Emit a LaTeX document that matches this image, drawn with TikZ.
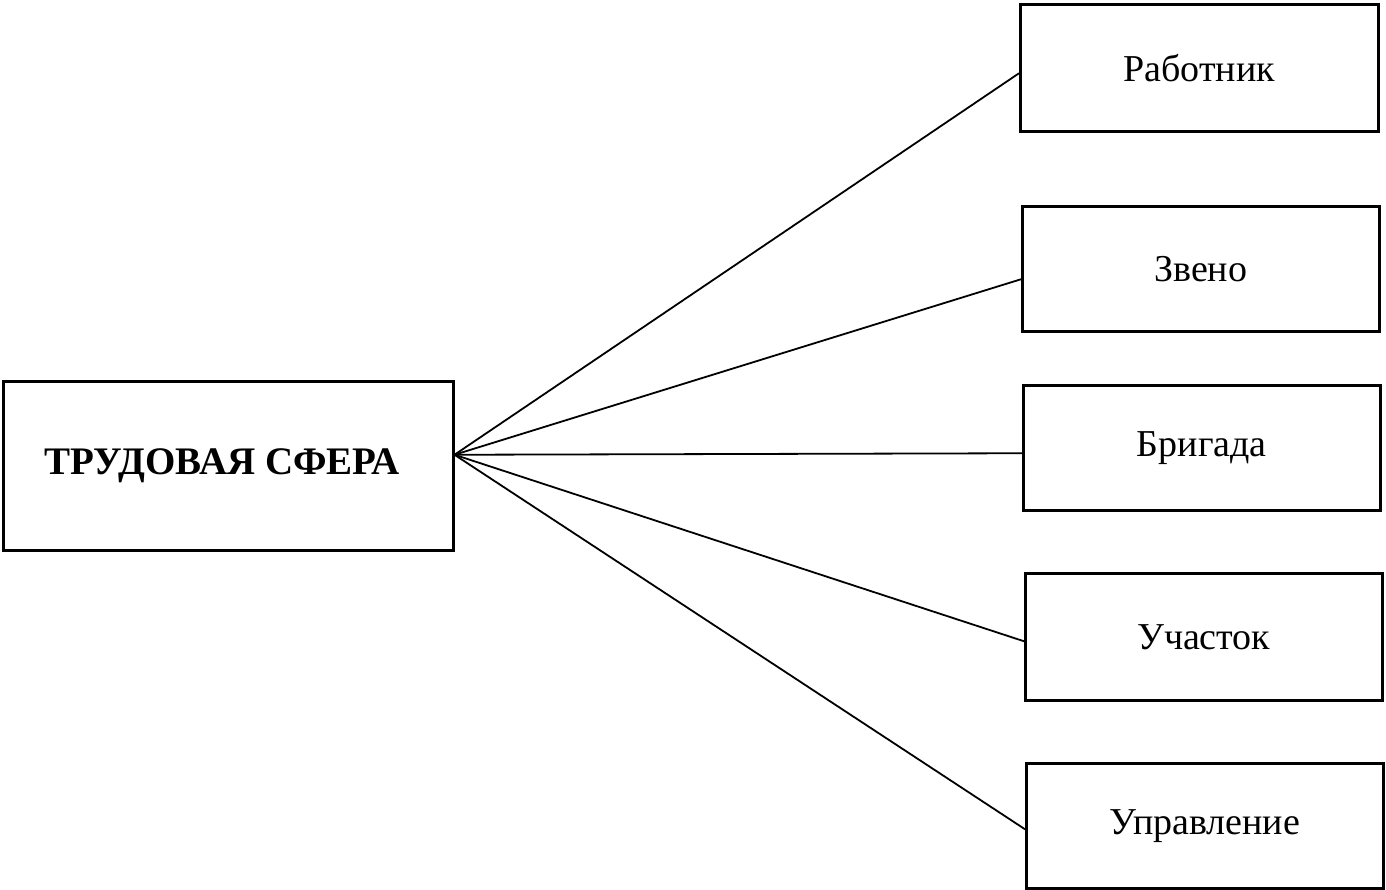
\documentclass[tikz,border=0pt]{standalone}
\usepackage{fontspec}
\setmainfont{Liberation Serif}
\begin{document}
\begin{tikzpicture}[x=1pt,y=-1pt,
  box/.style={draw=black,line width=2.5pt,inner sep=0pt,anchor=north west,font=\fontsize{38}{42}\selectfont},
  conn/.style={draw=black,line width=1.8pt}]
\useasboundingbox (0,0) rectangle (1386,889);
\node[box,minimum width=450pt,minimum height=169pt,font=\fontsize{39}{42}\selectfont\bfseries] (main) at (2,380) {ТРУДОВАЯ СФЕРА\hspace*{12pt}};
\node[box,minimum width=358pt,minimum height=127pt] (b1) at (1019,3) {Работник};
\node[box,minimum width=357pt,minimum height=125pt] (b2) at (1021,205) {Звено};
\node[box,minimum width=357pt,minimum height=125pt] (b3) at (1022,384) {Бригада};
\node[box,minimum width=357pt,minimum height=127pt] (b4) at (1024,572) {Участок};
\node[box,minimum width=357pt,minimum height=125pt] (b5) at (1025,762) {Управление};
\coordinate (hub) at ([yshift=11pt]main.east);
\draw[conn] (hub) -- ([yshift=-5.5pt]b1.west);
\draw[conn] (hub) -- ([yshift=-10.5pt]b2.west);
\draw[conn] (hub) -- ([yshift=-5.5pt]b3.west);
\draw[conn] (hub) -- ([yshift=-4.5pt]b4.west);
\draw[conn] (hub) -- ([yshift=-3.5pt]b5.west);
\end{tikzpicture}
\end{document}
